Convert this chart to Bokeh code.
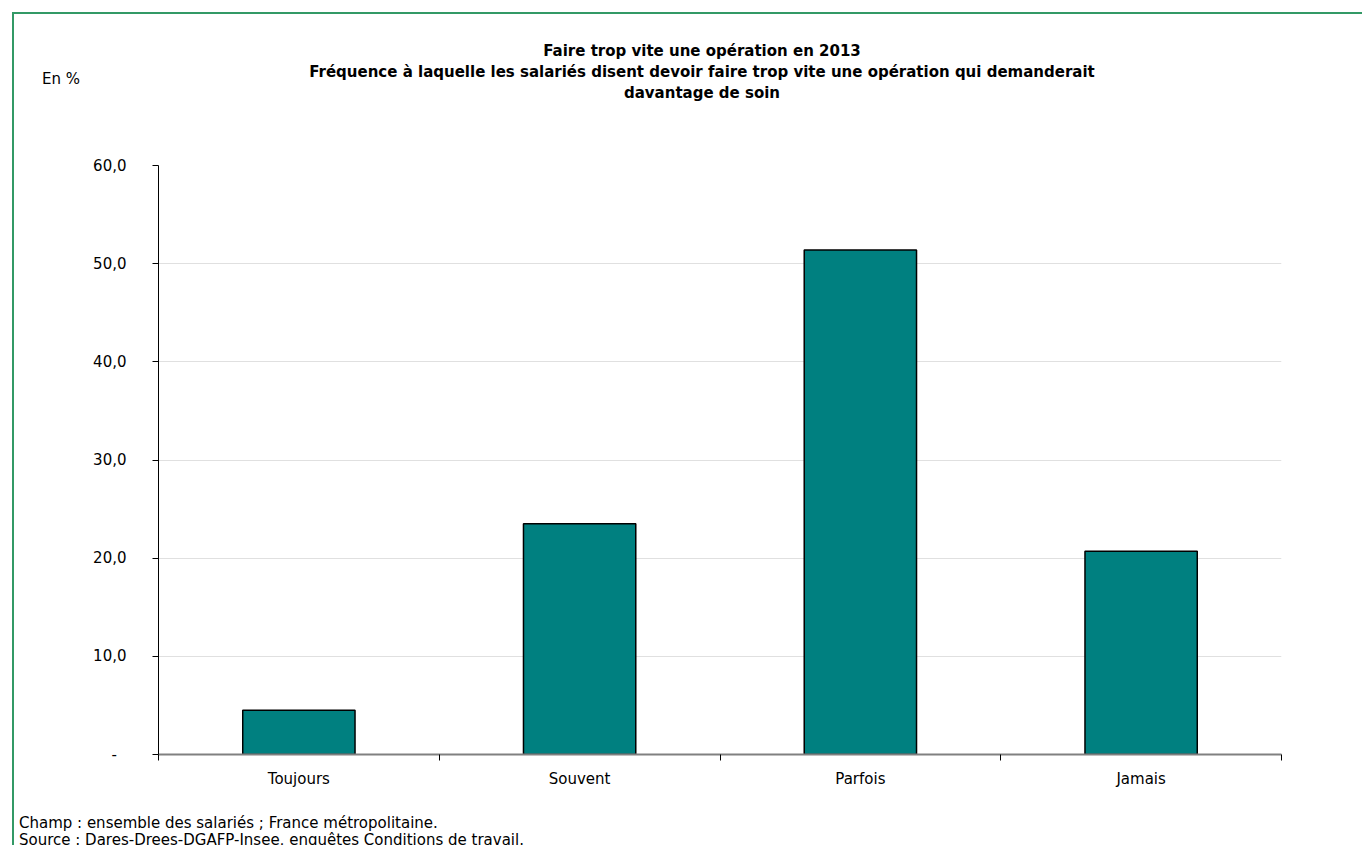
from html import escape
from bokeh.plotting import figure
from bokeh.models import Range1d, FixedTicker, Div
from bokeh.layouts import column
from bokeh.embed import file_html
from bokeh.resources import INLINE

categories = ["Toujours", "Souvent", "Parfois", "Jamais"]
values = [4.5, 23.5, 51.4, 20.7]
y_ticks = [0, 10, 20, 30, 40, 50, 60]
y_tick_labels = ["-\u00a0\u00a0", "10,0", "20,0", "30,0", "40,0", "50,0", "60,0"]

title_lines = [
    "Faire trop vite une opération en 2013",
    "Fréquence à laquelle les salariés disent devoir faire trop vite une opération qui demanderait",
    "davantage de soin",
]
unit_text = "En %"
notes = [
    "Champ : ensemble des salariés ; France métropolitaine.",
    "Source : Dares-Drees-DGAFP-Insee, enquêtes Conditions de travail.",
]

FONT = "DejaVu Sans"
FS = "15px"
OFF = 14            # page position of the content origin (12px margin + 2px border)
W = 1346
H_HDR = 127         # header: page y 14 .. 141
H_MAIN = 649        # main chart: page y 141 .. 790
H_FTR = 53          # footer: page y 790 .. 843
FRAME_LEFT = 158 - OFF
FRAME_TOP = 155 - 141
FW, FH = 1123, 589

n = len(categories)
xs = [i + 0.5 for i in range(n)]


def abs_text(t, left, cy, bold=False, center=False):
    tr = "transform:translateX(-50%);" if center else ""
    fw = "bold" if bold else "normal"
    return ('<div style="position:absolute;left:%spx;top:%spx;line-height:21px;'
            'white-space:nowrap;%sfont-weight:%s;">%s</div>'
            % (left, cy - 10.5, tr, fw, escape(t)))


def text_box(items, h):
    inner = "".join(items)
    html = ('<div style="position:relative;width:%dpx;height:%dpx;'
            'font-family:\'DejaVu Sans\';font-size:15px;color:black;margin:0;padding:0;">%s</div>'
            % (W, h, inner))
    return Div(text=html, width=W, height=h)


# ---- header: title and unit ----
hdr_items = [abs_text(t, 697 - OFF, 46 - OFF + 21 * i, bold=True, center=True)
             for i, t in enumerate(title_lines)]
hdr_items.append(abs_text(unit_text, 37 - OFF, 74 - OFF))
hdr = text_box(hdr_items, H_HDR)

# ---- main chart ----
p = figure(width=W, height=H_MAIN, output_backend="svg", toolbar_location=None,
           x_range=Range1d(0, n), y_range=Range1d(0, 60),
           min_border_left=FRAME_LEFT, min_border_right=W - FRAME_LEFT - FW,
           min_border_top=FRAME_TOP, min_border_bottom=H_MAIN - FRAME_TOP - FH)
p.outline_line_color = None
p.background_fill_color = "white"
p.border_fill_color = "white"

p.vbar(x=xs, top=values, width=0.4, bottom=0,
       fill_color="#008080", line_color="black", line_width=1.5)

# y axis
p.yaxis.ticker = FixedTicker(ticks=y_ticks, minor_ticks=[])
p.yaxis.major_label_overrides = {t: l for t, l in zip(y_ticks, y_tick_labels)}
p.yaxis.axis_line_color = "black"
p.yaxis.major_tick_line_color = "black"
p.yaxis.major_tick_out = 6
p.yaxis.major_tick_in = 0
p.yaxis.minor_tick_line_color = None
p.yaxis.major_label_standoff = 26
p.yaxis.major_label_text_font = FONT
p.yaxis.major_label_text_font_size = FS
p.yaxis.major_label_text_color = "black"

# x axis
p.xaxis.ticker = FixedTicker(ticks=xs, minor_ticks=list(range(n + 1)))
p.xaxis.major_label_overrides = {x: c for x, c in zip(xs, categories)}
p.xaxis.axis_line_color = "#808080"
p.xaxis.axis_line_width = 2
p.xaxis.major_tick_line_color = None
p.xaxis.major_tick_out = 0
p.xaxis.major_tick_in = 0
p.xaxis.minor_tick_line_color = "black"
p.xaxis.minor_tick_out = 6
p.xaxis.minor_tick_in = 0
p.xaxis.major_label_standoff = 9
p.xaxis.major_label_text_font = FONT
p.xaxis.major_label_text_font_size = FS
p.xaxis.major_label_text_color = "black"

p.xgrid.grid_line_color = None
p.ygrid.ticker = FixedTicker(ticks=y_ticks[1:])
p.ygrid.grid_line_color = "#e0e0e0"

# ---- footer: notes ----
ftr = text_box([abs_text(t, 0, 18 + 17 * i) for i, t in enumerate(notes)], H_FTR)

layout = column(hdr, p, ftr, spacing=0)
layout.styles = {"margin-left": "12px", "margin-top": "12px",
                 "border-top": "2px solid #339966", "border-left": "2px solid #339966"}

open("out.html", "w").write(file_html(layout, INLINE))
